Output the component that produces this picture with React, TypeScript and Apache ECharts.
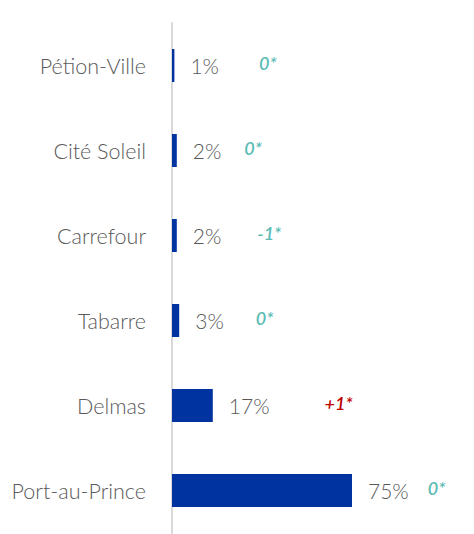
import React, { useEffect, useRef } from "react";
import * as echarts from "echarts";

const categories = ["Port-au-Prince", "Delmas", "Tabarre", "Carrefour", "Cité Soleil", "Pétion-Ville"];
const shares = [75, 17, 3, 2, 2, 1];
const changes = ["0*", "+1*", "0*", "-1*", "0*", "0*"];
// horizontal gap (px) between the share label and its change note
const gaps = [19, 55, 32, 36, 23, 40];

const FONT = "Lato, 'Open Sans', sans-serif";

export default function App() {
  const ref = useRef<HTMLDivElement>(null);
  useEffect(() => {
    if (!ref.current) return;
    const chart = echarts.init(ref.current, null, { renderer: "svg" });
    const rich: Record<string, any> = {
      p: { fontSize: 21, fontFamily: FONT, fontWeight: 300, color: "#595959" },
      up: { fontSize: 18, fontFamily: FONT, fontStyle: "italic", fontWeight: 600, color: "#c00000", padding: [0, 0, 6, 0] },
      eq: { fontSize: 18, fontFamily: FONT, fontStyle: "italic", fontWeight: 600, color: "#5bbcb5", padding: [0, 0, 6, 0] },
    };
    gaps.forEach((g, i) => {
      rich["s" + i] = { width: g };
    });
    chart.setOption({
      animation: false,
      grid: { left: 172, right: 2, top: 23, bottom: 1, containLabel: false },
      xAxis: { type: "value", min: 0, max: 125, show: false },
      yAxis: {
        type: "category",
        data: categories,
        axisLine: { show: true, lineStyle: { color: "#d9d9d9", width: 2 } },
        axisTick: { show: false },
        axisLabel: { fontSize: 21.5, fontFamily: FONT, fontWeight: 300, color: "#595959", margin: 26 },
      },
      series: [
        {
          type: "bar",
          data: shares,
          barWidth: 33,
          itemStyle: { color: "#0033a0" },
          label: {
            show: true,
            position: "right",
            distance: 16,
            formatter: (p: any) => {
              const i = p.dataIndex;
              const c = changes[i];
              const style = c.startsWith("+") ? "up" : "eq";
              return `{p|${p.value}%}{s${i}|}{${style}|${c}}`;
            },
            rich,
          },
        },
      ],
    });
    return () => chart.dispose();
  }, []);
  return <div ref={ref} style={{ position: "absolute", left: 0, top: 0, width: 474, height: 534 }} />;
}
